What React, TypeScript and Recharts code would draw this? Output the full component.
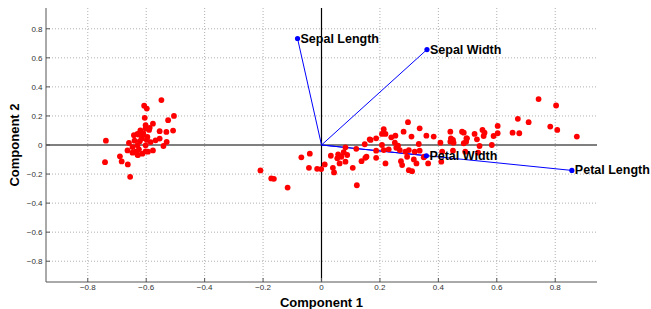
import React from 'react';
import {
  ScatterChart,
  Scatter,
  XAxis,
  YAxis,
  ReferenceLine,
  Label,
} from 'recharts';

// axis ticks (both axes)
const ticks = [-0.8, -0.6, -0.4, -0.2, 0, 0.2, 0.4, 0.6, 0.8];

// loading vectors as labelled in the plot
const vectorNames = ['Sepal Length', 'Sepal Width', 'Petal Length', 'Petal Width'];
const vectorX = [-0.082, 0.361, 0.857, 0.359];
const vectorY = [0.733, 0.657, -0.175, -0.074];

const scoreX = [
  -0.548, -0.607, -0.598, -0.505, -0.605, -0.525, -0.602, -0.577, -0.588, -0.554,
  -0.531, -0.508, -0.625, -0.642, -0.613, -0.596, -0.554, -0.568, -0.622, -0.738,
  -0.53, -0.659, -0.602, -0.63, -0.647, -0.541, -0.664, -0.625, -0.602, -0.577,
  -0.647, -0.63, -0.613, -0.69, -0.684, -0.663, -0.741, -0.655, -0.602, -0.59,
  -0.63, -0.61, -0.598, -0.636, -0.594, -0.628, -0.615, -0.585, -0.62, -0.64,
  -0.209, -0.172, -0.163, -0.116, -0.069, -0.04, -0.043, -0.015, -0.001, 0.011,
  0.032, 0.039, 0.043, 0.057, 0.054, 0.062, 0.068, 0.076, 0.082, 0.088,
  0.082, 0.107, 0.119, 0.121, 0.137, 0.148, 0.15, 0.154, 0.168, 0.187,
  0.187, 0.187, 0.207, 0.213, 0.23, 0.207, 0.213, 0.219, 0.219, 0.239,
  0.253, 0.251, 0.256, 0.268, 0.272, 0.281, 0.287, 0.293, 0.296, 0.299,
  0.299, 0.308, 0.31, 0.316, 0.319, 0.325, 0.336, 0.336, 0.35, 0.359,
  0.365, 0.384, 0.407, 0.41, 0.441, 0.443, 0.441, 0.452, 0.45, 0.481,
  0.496, 0.487, 0.276, 0.743, 0.803, 0.709, 0.672, 0.783, 0.807, 0.874,
  0.654, 0.677, 0.603, 0.603, 0.589, 0.583, 0.551, 0.558, 0.555, 0.524,
  0.541, 0.536, 0.498, 0.495, 0.487, 0.492, 0.45, 0.413, 0.352, 0.532,
  0.165, 0.262, 0.333,
];
const scoreY = [
  0.309, 0.27, 0.251, 0.2, 0.187, 0.171, 0.136, 0.147, 0.118, 0.095,
  0.09, 0.099, 0.071, 0.067, 0.067, 0.055, 0.044, 0.032, 0.026, 0.03,
  0.021, 0.014, -0.002, -0.002, -0.014, -0.007, -0.037, -0.03, -0.044, -0.037,
  -0.053, -0.067, -0.06, -0.078, -0.113, -0.134, -0.118, -0.219, 0.115, 0.104,
  0.076, 0.081, 0.035, -0.046, -0.046, -0.069, 0.045, 0.02, 0.1, 0.03,
  -0.175, -0.23, -0.233, -0.293, -0.085, -0.06, -0.157, -0.164, -0.166, -0.134,
  -0.074, -0.157, -0.189, -0.064, -0.092, -0.127, -0.081, -0.05, -0.016, -0.069,
  -0.115, -0.157, -0.026, -0.277, -0.111, 0.005, -0.088, -0.081, 0.035, 0.046,
  -0.039, -0.088, 0.0, -0.035, -0.03, 0.076, 0.109, 0.076, -0.127, 0.053,
  0.064, 0.016, -0.019, -0.035, -0.111, 0.092, -0.046, -0.081, 0.157, -0.035,
  -0.173, 0.058, -0.18, -0.099, -0.046, -0.127, 0.115, -0.039, -0.085, 0.064,
  -0.127, 0.058, 0.016, -0.115, 0.092, 0.046, 0.023, 0.016, -0.039, 0.092,
  0.046, 0.012, -0.138, 0.316, 0.272, 0.157, 0.18, 0.127, 0.104, 0.058,
  0.085, 0.081, 0.131, 0.081, 0.062, 0.0, 0.104, 0.085, 0.062, 0.076,
  -0.007, -0.053, 0.046, 0.023, 0.085, -0.046, 0.035, -0.046, -0.081, 0.039,
  0.039, -0.005, 0.007,
];

const scores = scoreX.map((x, i) => ({ x, y: scoreY[i] }));
const vectors = vectorNames.map((name, i) => ({ name, x: vectorX[i], y: vectorY[i] }));

const FONT = '"Liberation Sans", Arial, Helvetica, sans-serif';
const fmt = (v: number) => (v < 0 ? '\u2212' + Math.abs(v) : String(v));

const Empty = () => <g />;

const RedDot = (props: any) => {
  const { cx, cy } = props;
  return <circle cx={cx} cy={cy} r={2.9} fill="#ff0000" />;
};

const VectorTip = (props: any) => {
  const { cx, cy, payload } = props;
  return (
    <g>
      <circle cx={cx} cy={cy} r={2.6} fill="#0000ff" />
      <text
        x={cx + 3}
        y={cy + 4}
        fontSize={12.5}
        fontWeight="bold"
        fontFamily={FONT}
        fill="#000"
      >
        {payload.name}
      </text>
    </g>
  );
};

export default function App() {
  return (
    <div style={{ position: 'fixed', left: 0, top: 0, background: '#fff' }}>
      <ScatterChart
        width={651}
        height={309}
        margin={{ top: 8, right: 54, bottom: 0, left: 0 }}
        style={{ fontFamily: FONT }}
      >
        <XAxis
          type="number"
          dataKey="x"
          domain={[-0.943, 0.943]}
          ticks={ticks}
          height={27}
          stroke="#555"
          tickSize={-4}
          tickMargin={6}
          tickFormatter={fmt}
          tick={{ fontSize: 8, fill: '#333' }}
        >
          <Label
            value="Component 1"
            position="insideBottom"
            offset={2}
            style={{ fontSize: 13, fontWeight: 'bold', fill: '#000', fontFamily: FONT }}
          />
        </XAxis>
        <YAxis
          type="number"
          dataKey="y"
          domain={[-0.943, 0.943]}
          ticks={ticks}
          width={46}
          stroke="#555"
          tickSize={-4}
          tickMargin={7.5}
          tickFormatter={fmt}
          tick={{ fontSize: 8, fill: '#333' }}
        >
          <Label
            value="Component 2"
            angle={-90}
            position="insideLeft"
            offset={14}
            style={{ textAnchor: 'middle', fontSize: 13, fontWeight: 'bold', fill: '#000', fontFamily: FONT }}
          />
        </YAxis>
        {/* dotted grid at the ticks */}
        {ticks.filter((t) => t !== 0).map((t) => (
          <ReferenceLine key={'gx' + t} x={t} stroke="#b0b0b0" strokeDasharray="1 2" />
        ))}
        {ticks.filter((t) => t !== 0).map((t) => (
          <ReferenceLine key={'gy' + t} y={t} stroke="#b0b0b0" strokeDasharray="1 2" />
        ))}
        <ReferenceLine x={0} stroke="#000" strokeWidth={1.2} />
        <ReferenceLine y={0} stroke="#000" strokeWidth={1.2} />
        {vectors.map((v) => (
          <Scatter
            key={v.name}
            data={[{ x: 0, y: 0 }, { x: v.x, y: v.y }]}
            line={{ stroke: '#0000ff', strokeWidth: 1 }}
            shape={<Empty />}
            isAnimationActive={false}
          />
        ))}
        <Scatter data={scores} shape={<RedDot />} isAnimationActive={false} />
        <Scatter data={vectors} shape={<VectorTip />} isAnimationActive={false} />
      </ScatterChart>
    </div>
  );
}
